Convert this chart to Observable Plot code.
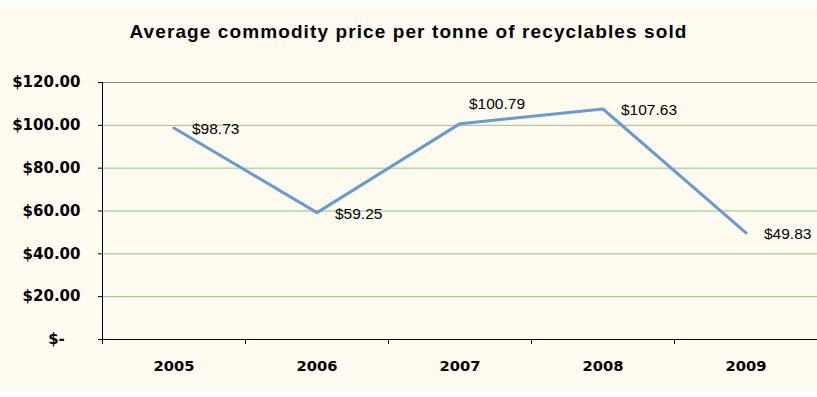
<!DOCTYPE html>
<html>
<head>
<meta charset="utf-8">
<script src="https://cdn.jsdelivr.net/npm/d3@7"></script>
<script src="https://cdn.jsdelivr.net/npm/@observablehq/plot@0.6"></script>
<style>
  html, body { margin: 0; padding: 0; background: #ffffff; }
  #frame { position: absolute; left: 0; top: 6px; width: 817px; height: 385px; background: #FFFBF0; }
  #title { position: absolute; left: 0; top: 15px; width: 817px; text-align: center;
           font-family: "Liberation Sans", Arial, sans-serif; font-weight: bold; font-size: 19px;
           letter-spacing: 1.1px; color: #000; line-height: 22px; }
  #chart { position: absolute; left: 0; top: 50px; }
</style>
</head>
<body>
<div id="frame">
  <div id="title">Average commodity price per tonne of recyclables sold</div>
  <div id="chart"></div>
</div>
<script>
const years = ["2005", "2006", "2007", "2008", "2009"];
const prices = [98.73, 59.25, 100.79, 107.63, 49.83];
const yTicks = [0, 20, 40, 60, 80, 100, 120];

const data = years.map((year, i) => ({year, pos: i + 0.5, price: prices[i]}));
const money = v => "$" + v.toFixed(2);

const plot = Plot.plot({
  width: 817,
  height: 334,
  marginTop: 26,
  marginBottom: 51,
  marginLeft: 102,
  marginRight: 0,
  style: {background: "transparent", overflow: "visible"},
  x: {type: "linear", domain: [0, years.length], axis: null, label: null},
  y: {domain: [0, 120], axis: null, label: null},
  marks: [
    Plot.ruleY(yTicks.filter(d => d > 0 && d < 120), {stroke: "#8FC589", strokeWidth: 1}),
    Plot.ruleY([120], {stroke: "#868686", strokeWidth: 1}),
    Plot.ruleY([0], {stroke: "#000", strokeWidth: 1}),
    Plot.ruleX([0], {stroke: "#000", strokeWidth: 1}),
    Plot.axisY({ticks: yTicks, tickSize: 4, tickPadding: 18, stroke: "#000", label: null,
      tickFormat: d => d === 0 ? "$-\u00a0\u00a0\u00a0" : money(d),
      fontFamily: "DejaVu Sans, Verdana, sans-serif", fontWeight: "bold", fontSize: 15,
      style: {letterSpacing: "1px"}, fill: "#000"}),
    Plot.axisX({ticks: d3.range(years.length + 1), tickSize: 5, tickFormat: () => "", stroke: "#000", label: null}),
    Plot.axisX({ticks: data.map(d => d.pos), tickSize: 0, tickPadding: 21, label: null,
      tickFormat: p => years[Math.floor(p)],
      fontFamily: "DejaVu Sans, Verdana, sans-serif", fontWeight: "bold", fontSize: 14.7, fill: "#000"}),
    Plot.line(data, {x: "pos", y: "price", stroke: "#6A9BD0", strokeWidth: 3}),
    Plot.text(data.filter(d => d.year !== "2007"), {x: "pos", y: "price", text: d => money(d.price),
      textAnchor: "start", dx: 18, dy: 1,
      fontFamily: "Liberation Sans, Arial, sans-serif", fontSize: 15.5, fill: "#000",
      style: {letterSpacing: "0.6px"}}),
    Plot.text(data.filter(d => d.year === "2007"), {x: "pos", y: "price", text: d => money(d.price),
      textAnchor: "start", dx: 9, dy: -20,
      fontFamily: "Liberation Sans, Arial, sans-serif", fontSize: 15.5, fill: "#000",
      style: {letterSpacing: "0.6px"}})
  ]
});
document.getElementById("chart").appendChild(plot);
</script>
</body>
</html>
